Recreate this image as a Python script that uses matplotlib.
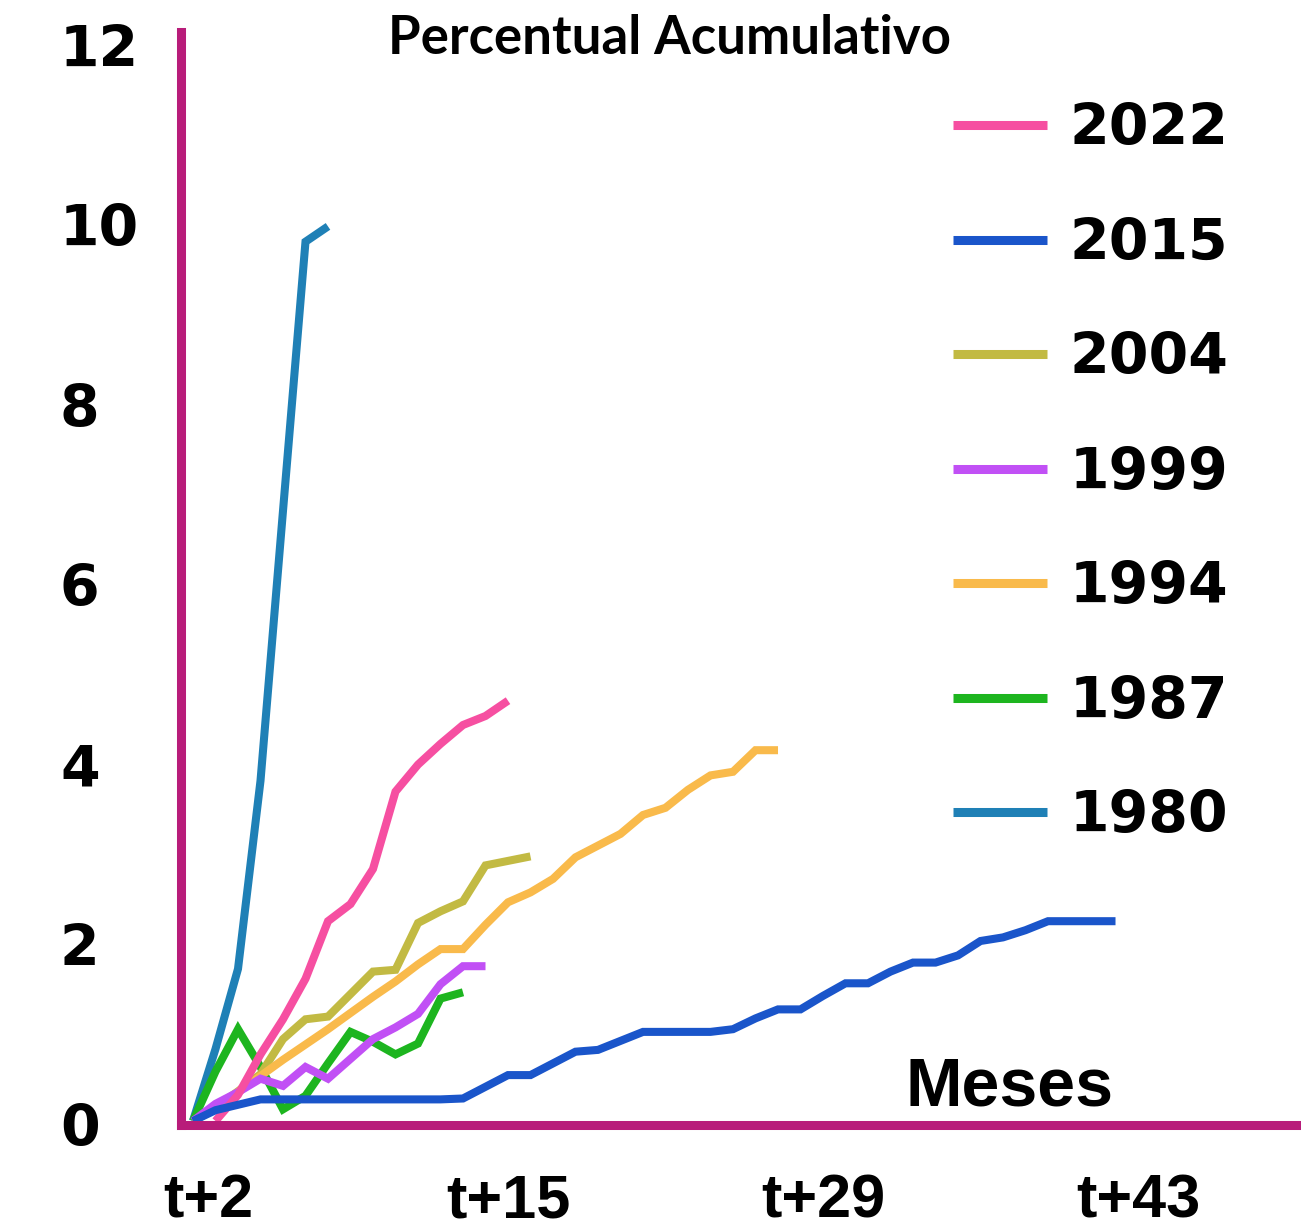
import matplotlib
matplotlib.use('Agg')
import matplotlib.pyplot as plt
import matplotlib.transforms as mtransforms

# ---------------- data ----------------
months_2022 = [2, 3, 4, 5, 6, 7, 8, 9, 10, 11, 12, 13, 14, 15]
vals_2022 = [0.0, 0.29, 0.74, 1.13, 1.58, 2.22, 2.41, 2.8, 3.66, 3.96, 4.19, 4.4, 4.5, 4.67]

months_2015 = list(range(1, 43))
vals_2015 = [0.0, 0.12, 0.18, 0.24, 0.24, 0.24, 0.24, 0.24, 0.24, 0.24,
             0.24, 0.24, 0.25, 0.38, 0.51, 0.51, 0.64, 0.77, 0.79, 0.89,
             0.99, 0.99, 0.99, 0.99, 1.02, 1.14, 1.24, 1.24, 1.39, 1.53,
             1.53, 1.66, 1.76, 1.76, 1.84, 2.0, 2.04, 2.12, 2.22, 2.22,
             2.22, 2.22]

months_2004 = list(range(1, 17))
vals_2004 = [0.0, 0.15, 0.33, 0.52, 0.91, 1.13, 1.16, 1.41, 1.66, 1.68,
             2.2, 2.33, 2.44, 2.84, 2.89, 2.94]

months_1999 = list(range(1, 15))
vals_1999 = [0.0, 0.19, 0.32, 0.47, 0.39, 0.6, 0.47, 0.69, 0.91, 1.04,
             1.19, 1.52, 1.72, 1.72]

months_1994 = list(range(1, 28))
vals_1994 = [0.0, 0.14, 0.32, 0.5, 0.68, 0.85, 1.02, 1.2, 1.38, 1.55,
             1.74, 1.91, 1.91, 2.18, 2.43, 2.54, 2.69, 2.93, 3.06, 3.19,
             3.4, 3.48, 3.68, 3.84, 3.88, 4.12, 4.12]

months_1987 = list(range(1, 14))
vals_1987 = [0.0, 0.55, 1.02, 0.6, 0.13, 0.28, 0.64, 0.99, 0.88, 0.74,
             0.86, 1.36, 1.43]

months_1980 = list(range(1, 8))
vals_1980 = [0.0, 0.8, 1.69, 3.78, 6.78, 9.77, 9.94]

legend_years = ['2022', '2015', '2004', '1999', '1994', '1987', '1980']
colors = {
    '2022': '#F64FA1',
    '2015': '#1A55CA',
    '2004': '#C2BA43',
    '1999': '#C150F5',
    '1994': '#F9BA4B',
    '1987': '#1DB51F',
    '1980': '#1F80B6',
}
series = {
    '2022': (months_2022, vals_2022),
    '2015': (months_2015, vals_2015),
    '2004': (months_2004, vals_2004),
    '1999': (months_1999, vals_1999),
    '1994': (months_1994, vals_1994),
    '1987': (months_1987, vals_1987),
    '1980': (months_1980, vals_1980),
}
draw_order = ['1980', '1987', '2004', '1994', '1999', '2022', '2015']

xtick_pos = [2, 15, 29, 43]
xtick_labels = ['t+2', 't+15', 't+29', 't+43']
ytick_pos = [0, 2, 4, 6, 8, 10, 12]
ytick_labels = ['0', '2', '4', '6', '8', '10', '12']

axis_color = '#B81C7A'
heavy_font = 'DejaVu Sans'

# ---------------- figure ----------------
W, H = 1301, 1232
fig = plt.figure(figsize=(W / 100, H / 100), dpi=100)
ax = fig.add_axes([181.5 / W, (H - 1124.5) / H, (W - 181.5) / W, (1124.5 - 32) / H])

lines = {}
for yr in draw_order:
    mx, vy = series[yr]
    ln, = ax.plot(mx, vy, color=colors[yr], lw=5.8, solid_capstyle='butt',
                  solid_joinstyle='miter', label=yr, clip_on=False)
    lines[yr] = ln

ax.set_xlim(0.489, 50.244)
ax.set_ylim(-0.039, 12.1)

for s in ['top', 'right']:
    ax.spines[s].set_visible(False)
for s in ['left', 'bottom']:
    ax.spines[s].set_color(axis_color)
    ax.spines[s].set_linewidth(6.5)
    ax.spines[s].set_capstyle('projecting')

ax.set_xticks(xtick_pos)
ax.set_xticklabels(xtick_labels)
ax.set_yticks(ytick_pos)
ax.set_yticklabels(ytick_labels)
ax.tick_params(axis='both', length=0)
ax.tick_params(axis='y', pad=87.5)
ax.tick_params(axis='x', pad=35)

yoff = mtransforms.ScaledTranslation(0, -4 / 100, fig.dpi_scale_trans)
for lab in ax.get_yticklabels():
    lab.set_fontfamily(heavy_font)
    lab.set_fontweight('bold')
    lab.set_fontsize(41)
    lab.set_ha('left')
    lab.set_transform(lab.get_transform() + yoff)
for i, lab in enumerate(ax.get_xticklabels()):
    lab.set_fontfamily('Liberation Sans')
    lab.set_fontweight('bold')
    lab.set_fontsize(44)
    if i == 0:
        lab.set_transform(lab.get_transform() +
                          mtransforms.ScaledTranslation(-7 / 100, 0, fig.dpi_scale_trans))

# title
fig.text(670 / W, 1 - 39 / H, 'Percentual Acumulativo', ha='center', va='center',
         fontfamily='Lato', fontweight='bold', fontsize=38)
# x axis name
fig.text(1113 / W, 1 - 1105 / H, 'Meses', ha='right', va='baseline',
         fontfamily='Liberation Sans', fontweight='bold', fontsize=49)

leg = ax.legend([lines[y] for y in legend_years], legend_years,
                loc='upper left', bbox_to_anchor=(953 / W, 1 - 102 / H),
                bbox_transform=fig.transFigure, frameon=False,
                prop={'family': heavy_font, 'weight': 'bold', 'size': 41},
                handlelength=1.65, handletextpad=0.4, labelspacing=1.045,
                borderaxespad=0, borderpad=0)
for h in leg.legend_handles:
    h.set_linewidth(6.5)

fig.savefig('out.png', dpi=100, facecolor='white')
